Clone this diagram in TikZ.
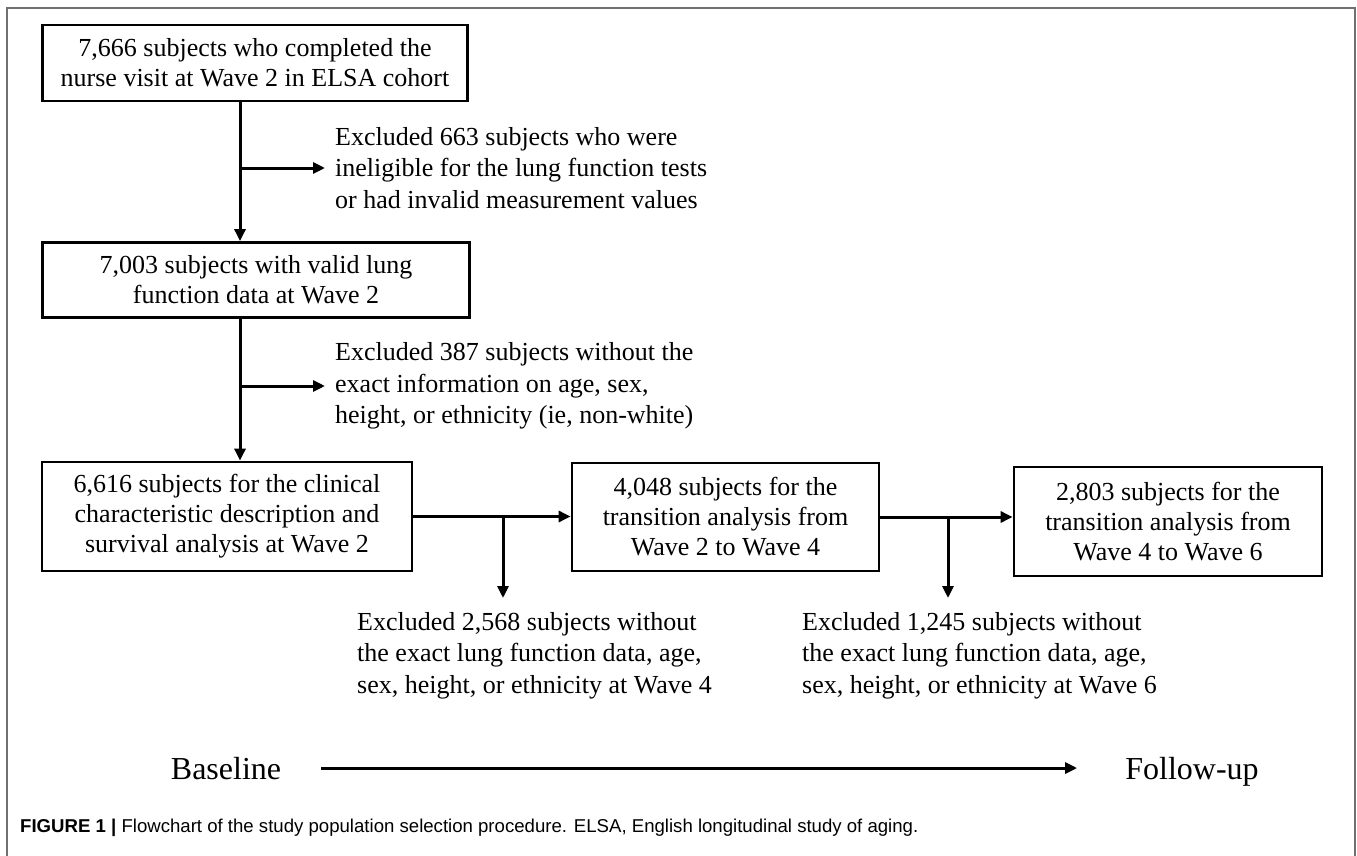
\documentclass[tikz,border=0pt]{standalone}
\usepackage{fontspec}
\setmainfont{Liberation Serif}
\setsansfont{Liberation Sans}
\usetikzlibrary{arrows.meta,positioning}
\definecolor{framegray}{RGB}{112,112,112}
\begin{document}
\begin{tikzpicture}
[x=1pt, y=-1pt,
 box/.style={draw, line width=2.8pt, align=center, inner sep=0pt, font=\fontsize{26}{30}\selectfont},
 note/.style={align=left, inner sep=0pt, font=\fontsize{26}{31.5}\selectfont},
 arr/.style={line width=3pt, -{Triangle[length=12pt,width=11pt]}}]
\useasboundingbox (0,0) rectangle (1357,856);
\draw[line width=2pt, framegray] (7,856) -- (7,8) -- (1355,8) -- (1355,856);
% boxes
\node[box, minimum width=425pt, minimum height=76pt] (wave2all) at (255,63) {7,666 subjects who completed the\\nurse visit at Wave 2 in ELSA cohort};
\node[box, minimum width=427pt, minimum height=75pt] (wave2valid) at (256,280) {7,003 subjects with valid lung\\function data at Wave 2};
\node[box, minimum width=370pt, minimum height=109pt] (wave2base) at (227,516.5) {6,616 subjects for the clinical\\characteristic description and\\survival analysis at Wave 2};
\node[box, minimum width=307pt, minimum height=108pt] (wave4) at (725.5,517) {4,048 subjects for the\\transition analysis from\\Wave 2 to Wave 4};
\node[box, minimum width=308pt, minimum height=109pt] (wave6) at (1168,521.5) {2,803 subjects for the\\transition analysis from\\Wave 4 to Wave 6};
% exclusions
\node[note, anchor=west] (excl1) at (335,168) {Excluded 663 subjects who were\\ineligible for the lung function tests\\or had invalid measurement values};
\node[note, anchor=west] (excl2) at (335,386) {Excluded 387 subjects without the\\exact information on age, sex,\\height, or ethnicity (ie, non-white)};
\node[note, anchor=north west] (excl3) at (357,612) {Excluded 2,568 subjects without\\the exact lung function data, age,\\sex, height, or ethnicity at Wave 4};
\node[note, anchor=north west] (excl4) at (802,612) {Excluded 1,245 subjects without\\the exact lung function data, age,\\sex, height, or ethnicity at Wave 6};
% connectors
\coordinate (spine) at (240,0);
\coordinate (drop1) at (503,0);
\coordinate (drop2) at (948,0);
\draw[arr] (spine |- wave2all.south) -- (spine |- wave2valid.north);
\draw[arr] (spine |- wave2valid.south) -- (spine |- wave2base.north);
\draw[arr, shorten >=10pt] (spine |- excl1.west) -- (excl1.west);
\draw[arr, shorten >=10pt] (spine |- excl2.west) -- (excl2.west);
\draw[arr] (wave2base.east) -- (wave2base.east -| wave4.west);
\draw[arr] (wave4.east) -- (wave4.east -| wave6.west);
\draw[arr, shorten >=14pt] (drop1 |- wave2base.east) -- (drop1 |- excl3.north);
\draw[arr, shorten >=14pt] (drop2 |- wave4.east) -- (drop2 |- excl4.north);
% time line
\node[anchor=base, inner sep=0pt, font=\fontsize{32}{36}\selectfont] (baseline) at (226,779) {Baseline};
\node[anchor=base, inner sep=0pt, font=\fontsize{32}{36}\selectfont] (followup) at (1192,779) {Follow-up};
\draw[arr, shorten <=40pt, shorten >=48pt] (baseline.east) -- (baseline.east -| followup.west);
% caption
\node[anchor=base west, inner sep=0pt, font=\sffamily\fontsize{18.6}{20}\selectfont] (caption) at (20,832) {\textbf{FIGURE 1 |} Flowchart of the study population selection procedure. ELSA, English longitudinal study of aging.};
\end{tikzpicture}
\end{document}
